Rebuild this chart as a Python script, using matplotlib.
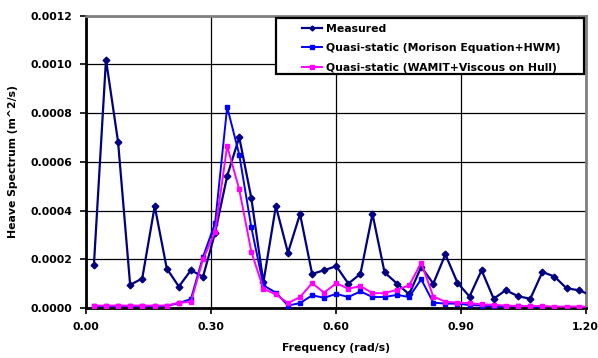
import matplotlib
matplotlib.use('Agg')
import matplotlib.pyplot as plt
from matplotlib.patches import Rectangle

plt.rcParams['font.family'] = ['DejaVu Sans']
plt.rcParams['font.weight'] = 'bold'

# frequencias (rad/s)
freq = [0.019, 0.048, 0.077, 0.106, 0.135, 0.165, 0.194, 0.223, 0.252, 0.281,
        0.310, 0.339, 0.368, 0.397, 0.426, 0.456, 0.485, 0.514, 0.543, 0.572,
        0.601, 0.630, 0.659, 0.688, 0.717, 0.747, 0.776, 0.805, 0.834, 0.863,
        0.892, 0.921, 0.950, 0.979, 1.008, 1.038, 1.067, 1.096, 1.125, 1.154,
        1.183, 1.212]

measured = [0.000177, 0.00102, 0.000682, 0.000095, 0.000121, 0.000418, 0.000162,
            0.000088, 0.000155, 0.000128, 0.000309, 0.000542, 0.000701, 0.000451,
            0.000105, 0.000418, 0.000227, 0.000386, 0.000140, 0.000155, 0.000172,
            0.000100, 0.000140, 0.000386, 0.000146, 0.000100, 0.000056, 0.000169,
            0.000100, 0.000220, 0.000104, 0.000047, 0.000155, 0.000038, 0.000073,
            0.000048, 0.000038, 0.000148, 0.000129, 0.000081, 0.000073, 0.000053]

morison = [0.000008, 0.000008, 0.000008, 0.000008, 0.000008, 0.000008, 0.000008,
           0.000020, 0.000037, 0.000210, 0.000348, 0.000825, 0.000630, 0.000331,
           0.000093, 0.000063, 0.000010, 0.000020, 0.000052, 0.000042, 0.000058,
           0.000045, 0.000068, 0.000045, 0.000045, 0.000054, 0.000045, 0.000118,
           0.000022, 0.000018, 0.000018, 0.000012, 0.000010, 0.000006, 0.000006,
           0.000008, 0.000008, 0.000002]

wamit = [0.000010, 0.000010, 0.000010, 0.000010, 0.000010, 0.000010, 0.000010,
         0.000022, 0.000025, 0.000200, 0.000313, 0.000665, 0.000487, 0.000231,
         0.000079, 0.000056, 0.000020, 0.000045, 0.000102, 0.000063, 0.000102,
         0.000079, 0.000090, 0.000061, 0.000061, 0.000075, 0.000093, 0.000185,
         0.000047, 0.000026, 0.000022, 0.000020, 0.000015, 0.000013, 0.000010,
         0.000008, 0.000008, 0.000008, 0.000006, 0.000006, 0.000006, 0.000005]

labels = ['Measured',
          'Quasi-static (Morison Equation+HWM)',
          'Quasi-static (WAMIT+Viscous on Hull)']

xticks = [0.0, 0.3, 0.6, 0.9, 1.2]
yticks = [0.0, 0.0002, 0.0004, 0.0006, 0.0008, 0.0010, 0.0012]

fs = 7.8

fig = plt.figure(figsize=(5.98, 3.58), dpi=100)
ax = fig.add_axes([86 / 598, 1 - 308 / 358, 499.7 / 598, 292.3 / 358])

ax.plot(freq, measured, color='#000080', lw=1.6, marker='D', ms=3.4,
        label=labels[0], zorder=3)
ax.plot(freq[:len(morison)], morison, color='#0000FF', lw=1.4, marker='s', ms=2.6,
        label=labels[1], zorder=4)
ax.plot(freq, wamit, color='#FF00FF', lw=1.4, marker='s', ms=2.6,
        label=labels[2], zorder=5)

ax.set_xlim(0, 1.2)
ax.set_ylim(0, 0.0012)
ax.set_xticks(xticks)
ax.set_yticks(yticks)
ax.set_xticklabels(['%.2f' % v for v in xticks])
ax.set_yticklabels(['%.4f' % v for v in yticks])
ax.tick_params(labelsize=fs, length=4, width=1.2, color='black', pad=6)

ax.grid(True, color='black', lw=0.9)
ax.set_axisbelow(True)

for s in ['left', 'bottom']:
    ax.spines[s].set_linewidth(2)
    ax.spines[s].set_color('black')
for s in ['top', 'right']:
    ax.spines[s].set_linewidth(2)
    ax.spines[s].set_color('#808080')

ax.set_xlabel('Frequency (rad/s)', fontsize=fs, fontweight='bold', labelpad=8)
ax.set_ylabel('Heave Spectrum (m^2/s)', fontsize=fs, fontweight='bold', labelpad=9)

# caixa da legenda
box = Rectangle((0.380, 0.8016), 0.6166, 0.1914, transform=ax.transAxes,
                facecolor='white', edgecolor='black', lw=1.6, zorder=6)
ax.add_patch(box)

leg = ax.legend(loc='upper left', bbox_to_anchor=(0.432, 0.972), frameon=False,
                fontsize=fs, handlelength=1.9, handletextpad=0.35,
                labelspacing=0.86, borderpad=0, borderaxespad=0)
leg.set_zorder(7)
for h in leg.legend_handles:
    h.set_markersize(2.5)

fig.savefig('out.png', dpi=100)
